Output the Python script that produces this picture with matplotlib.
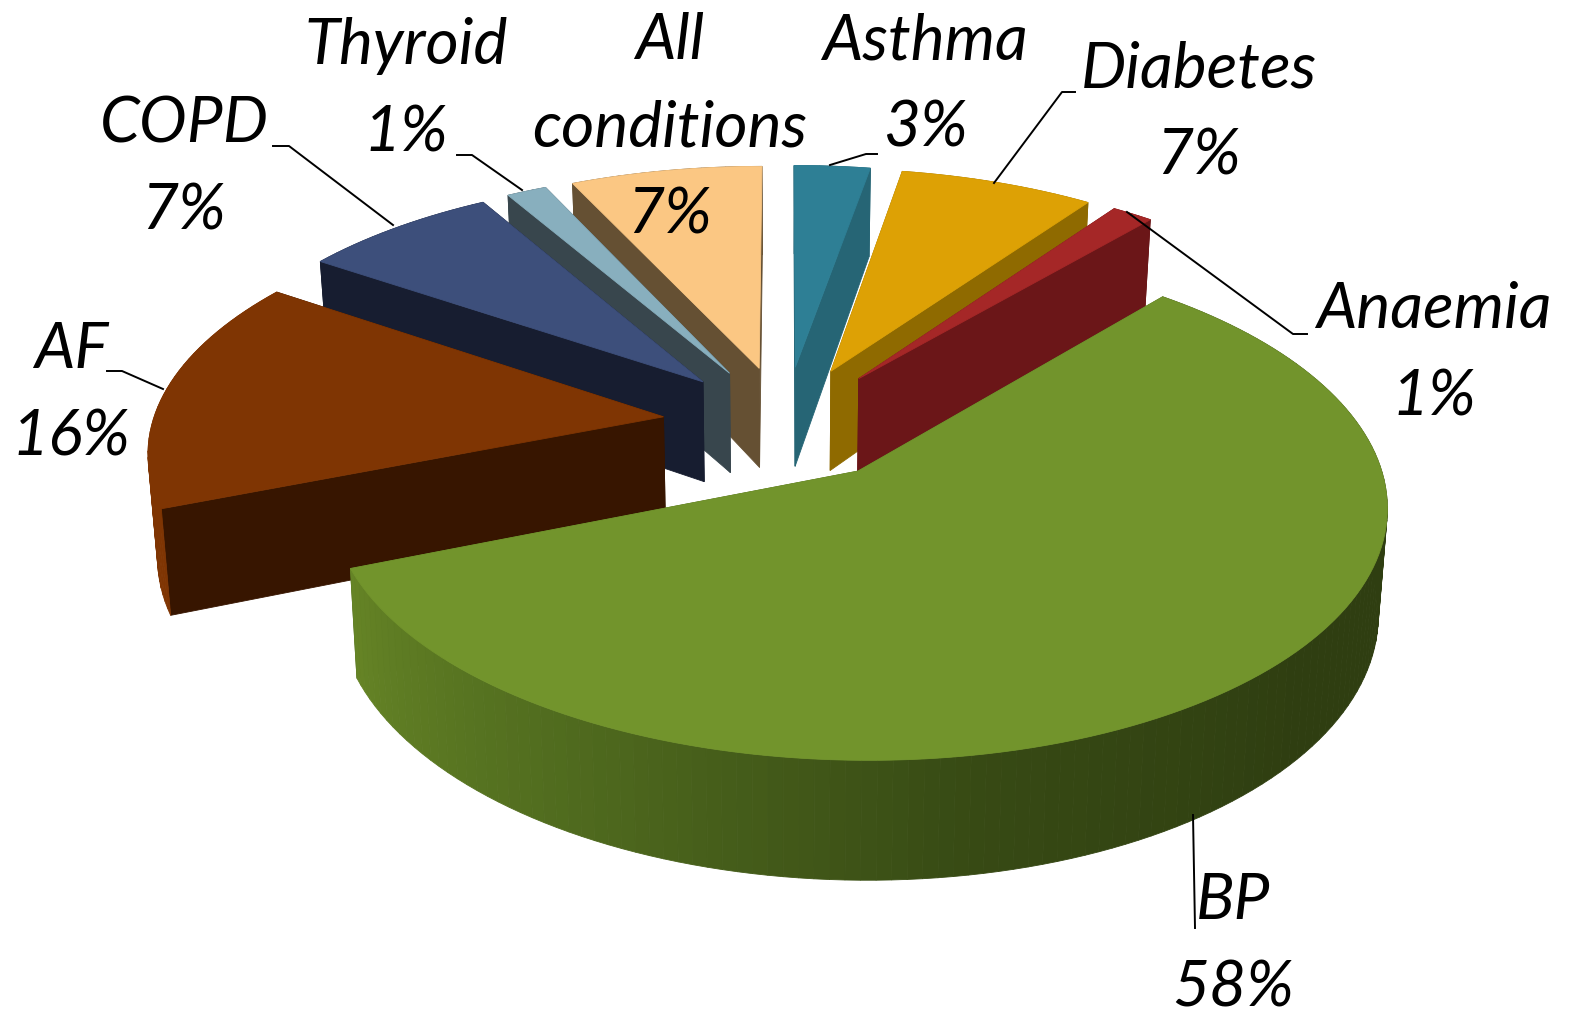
import numpy as np
import matplotlib
matplotlib.use('Agg')
import matplotlib.pyplot as plt
from matplotlib.colors import LinearSegmentedColormap

# data, clockwise from 12 o'clock
conditions = ['Asthma', 'Diabetes', 'Anaemia', 'BP', 'AF', 'COPD', 'Thyroid', 'All\nconditions']
values = [3, 7, 1, 58, 16, 7, 1, 7]
# slice sizes (the printed labels are rounded)
shares = [2.75, 7.05, 1.5, 57.7, 15.45, 7.15, 1.45, 6.95]

top_colors = ['#2E7F95', '#DDA105', '#A52727', '#72942C', '#7F3503', '#3D4F7B', '#88AFBE', '#FBC783']
side_colors = ['#266575', '#8F6A00', '#6B1618', '#4C631D', '#371500', '#171D30', '#38464D', '#655033']
wall_colors = ['#266575', '#8F6A00', '#6B1618', None, '#7F3503', '#171D30', '#38464D', '#655033']
bp_wall = LinearSegmentedColormap.from_list('bp', ['#2F3E11', '#2F3E11', '#374A14', '#4F6A1E', '#668526'])

# label text position (centre) and leader line for each slice
label_pos = [(925, 85), (1199, 113), (1434, 354), (1233, 945), (71, 394), (184, 168), (406, 90), (670, 128)]
leaders = [
    [(830, 165), (866, 154), (877, 154)],
    [(994, 183), (1062, 92), (1075, 92)],
    [(1127, 212), (1293, 334), (1307, 334)],
    [(1193, 815), (1195, 928)],
    [(163, 389), (122, 371), (107, 371)],
    [(393, 225), (289, 146), (273, 146)],
    [(522, 190), (472, 155), (457, 155)],
    None,
]

# pie geometry (pixels)
cx, cy = 785, 423
R, S = 511, 240
persp = 0.125
explode = 0.24
depth = 102
base_shrink = 0.985
font_px = 64


def project(x, y):
    w = 1 + persp * y
    return cx + R * x / w, cy - S * y / w, w


def top_point(x, y):
    sx, sy, w = project(x, y)
    return sx, sy


def bottom_point(x, y):
    sx, sy, w = project(x, y)
    return cx + (sx - cx) * base_shrink, sy + depth / w


def quad(ax, p1, p2, color):
    a, b = top_point(*p1), top_point(*p2)
    c, d = bottom_point(*p2), bottom_point(*p1)
    ax.fill([a[0], b[0], c[0], d[0]], [a[1], b[1], c[1], d[1]], color=color, lw=0.6)


fig = plt.figure(figsize=(15.73, 10.19), dpi=100)
ax = fig.add_axes([0, 0, 1, 1])
ax.set_xlim(0, 1573)
ax.set_ylim(1019, 0)
ax.axis('off')

edges = np.concatenate([[0], np.cumsum(shares)]) / np.sum(shares) * 2 * np.pi
draw_order = [7, 0, 6, 1, 5, 2, 4, 3]  # back to front

for i in draw_order:
    a0, a1 = edges[i], edges[i + 1]
    mid = (a0 + a1) / 2
    ox, oy = explode * np.sin(mid), explode * np.cos(mid)
    n = max(int(np.degrees(a1 - a0) / 1.5), 2)
    t = np.linspace(a0, a1, n + 1)
    xs = ox + np.sin(t)
    ys = oy + np.cos(t)

    faces = []
    faces.append((oy + np.cos(a0) / 2, (ox, oy), (xs[0], ys[0]), side_colors[i]))
    faces.append((oy + np.cos(a1) / 2, (ox, oy), (xs[-1], ys[-1]), side_colors[i]))
    for j in range(n):
        if wall_colors[i] is None:
            c = bp_wall((t[j] - np.pi / 2) / (a1 - np.pi / 2)) if t[j] > np.pi / 2 else bp_wall(0.0)
        else:
            c = wall_colors[i]
        faces.append(((ys[j] + ys[j + 1]) / 2, (xs[j], ys[j]), (xs[j + 1], ys[j + 1]), c))
    faces.sort(key=lambda f: -f[0])
    for f in faces:
        quad(ax, f[1], f[2], f[3])

    pts = [top_point(ox, oy)] + [top_point(x, y) for x, y in zip(xs, ys)]
    ax.fill([p[0] for p in pts], [p[1] for p in pts], color=top_colors[i], lw=0.6)

for name, v, pos, line in zip(conditions, values, label_pos, leaders):
    ax.text(pos[0], pos[1], f'{name}\n{v}%', family='Lato', style='italic', color='black',
            fontsize=font_px * 0.72, ha='center', va='center', linespacing=1.62)
    if line is not None:
        ax.plot([p[0] for p in line], [p[1] for p in line], color='black', lw=1.4)

fig.savefig('out.png', dpi=100)
